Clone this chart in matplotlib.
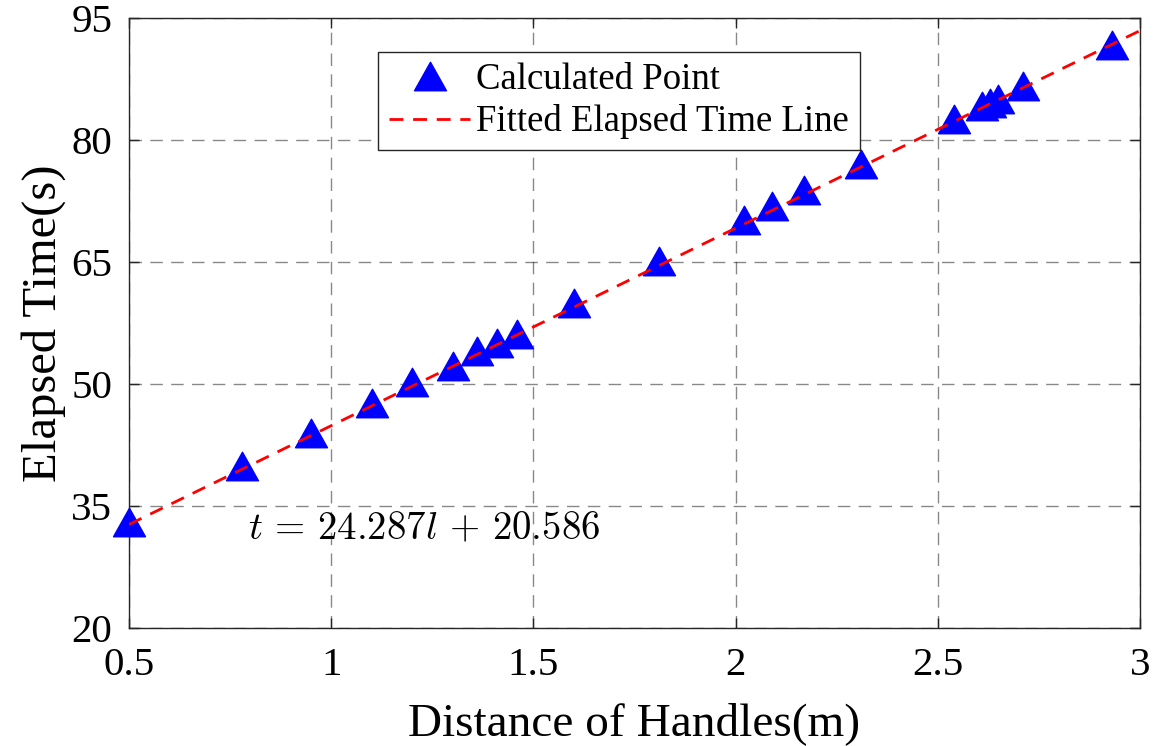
import matplotlib.pyplot as plt
import numpy as np
from matplotlib.path import Path

plt.rcParams['font.family'] = ['Liberation Serif', 'DejaVu Serif']
plt.rcParams['mathtext.fontset'] = 'cm'

# handle distance (m) and computed elapsed time (s)
dist = [0.50, 0.78, 0.95, 1.10, 1.20, 1.30, 1.36, 1.41, 1.46, 1.60,
        1.81, 2.02, 2.09, 2.17, 2.31, 2.54, 2.61, 2.63, 2.65, 2.71, 2.93]
elapsed = [33.0, 39.9, 44.0, 47.7, 50.3, 52.2, 54.0, 55.0, 56.1, 60.0,
           65.1, 70.2, 71.9, 73.8, 77.1, 82.6, 84.2, 84.6, 85.1, 86.6, 91.7]

slope = 24.287
intercept = 20.586

xticks = [0.5, 1, 1.5, 2, 2.5, 3]
xticklabels = ['0.5', '1', '1.5', '2', '2.5', '3']
yticks = [20, 35, 50, 65, 80, 95]

# wide triangle marker
tri = Path([(-1.12, -1), (1.12, -1), (0, 1), (-1.12, -1)],
           [Path.MOVETO, Path.LINETO, Path.LINETO, Path.CLOSEPOLY])

fig = plt.figure(figsize=(11.55, 7.46), dpi=100)
ax = fig.add_axes([129 / 1155, 1 - 628 / 746, (1140 - 129) / 1155, (628 - 18) / 746])

ax.plot(dist, elapsed, linestyle='none', marker=tri, markersize=23,
        markerfacecolor='#0000ff', markeredgecolor='#0000ff',
        label='Calculated Point', zorder=3, clip_on=False)

fit_x = np.array([0.5, 3.0])
ax.plot(fit_x, slope * fit_x + intercept, '--', color='#ff0000',
        linewidth=2, dashes=(5, 3.5), label='Fitted Elapsed Time Line', zorder=4)

ax.set_xlim(0.5, 3)
ax.set_ylim(20, 95)
ax.set_xticks(xticks)
ax.set_xticklabels(xticklabels)
ax.set_yticks(yticks)
ax.tick_params(direction='in', length=7, width=1, labelsize=29.5,
               top=True, right=True, color='#262626')
ax.tick_params(axis='x', pad=14)
ax.tick_params(axis='y', pad=12)
for s in ax.spines.values():
    s.set_color('#262626')
    s.set_linewidth(1)

ax.grid(True, color='#262626', alpha=0.55, linestyle=(0, (9, 6)), linewidth=1)

ax.set_xlabel('Distance of Handles(m)', fontsize=34, labelpad=13)
ax.set_ylabel('Elapsed Time(s)', fontsize=35, labelpad=4)

ax.text(0.795, 32.1, r'$t \,=\, 24.287l \,+\, 20.586$', fontsize=28, ha='left', va='center')

leg = ax.legend(loc='upper left', bbox_to_anchor=(0.2465, 0.945), fontsize=26.5,
                fancybox=False, framealpha=1, edgecolor='#262626',
                handlelength=2.2, borderpad=0.3, labelspacing=0.2,
                handletextpad=0.15, borderaxespad=0)
leg.get_frame().set_linewidth(1)

fig.savefig('out.png', dpi=100)
